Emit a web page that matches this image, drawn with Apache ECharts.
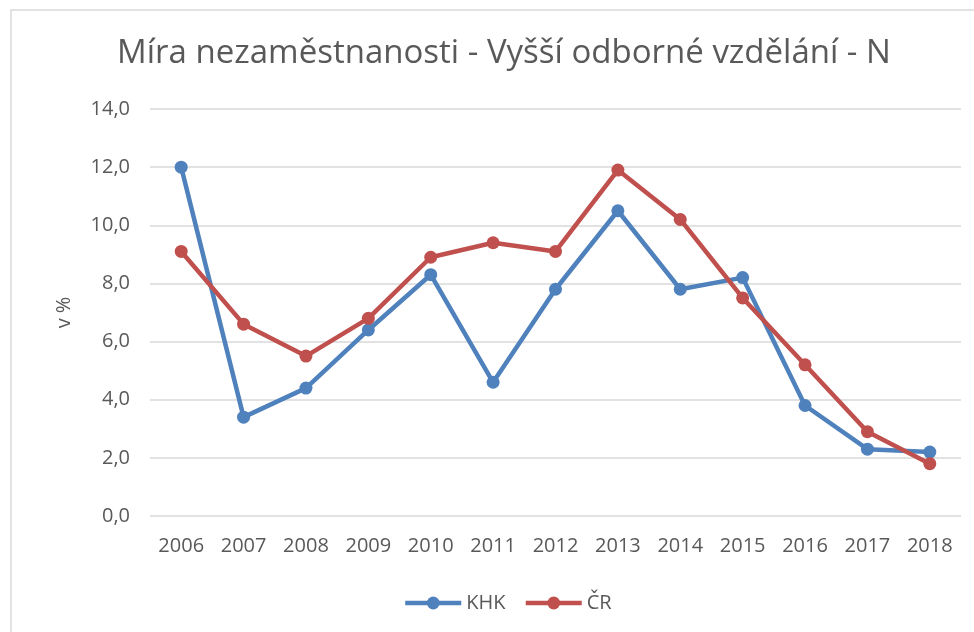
<!DOCTYPE html>
<html><head><meta charset="utf-8">
<script src="https://cdn.jsdelivr.net/npm/echarts@6/dist/echarts.min.js"></script>
<style>html,body{margin:0;padding:0;background:#fff}#c{width:974px;height:632px}</style>
</head><body><div id="c"></div>
<script>
var categories = ['2006','2007','2008','2009','2010','2011','2012','2013','2014','2015','2016','2017','2018'];
var khk = [12.0, 3.4, 4.4, 6.4, 8.3, 4.6, 7.8, 10.5, 7.8, 8.2, 3.8, 2.3, 2.2];
var cr = [9.1, 6.6, 5.5, 6.8, 8.9, 9.4, 9.1, 11.9, 10.2, 7.5, 5.2, 2.9, 1.8];
var titleText = 'Míra nezaměstnanosti - Vyšší odborné vzdělání - N';
var yName = 'v %';
var seriesNames = ['KHK', 'ČR'];

var chart = echarts.init(document.getElementById('c'), null, {renderer: 'canvas'});
var txt = '#595959';
var ff = '"Open Sans", sans-serif';
chart.setOption({
  animation: false,
  backgroundColor: '#fff',
  graphic: [{type: 'rect', shape: {x: 11, y: 10, width: 1000, height: 700}, style: {fill: 'none', stroke: '#d9d9d9', lineWidth: 1.5}, z: -1}],
  title: {text: titleText, left: 499, textAlign: 'center', top: 32,
    textStyle: {fontFamily: ff, fontSize: 33, fontWeight: 'normal', color: txt}},
  grid: {left: 150, right: 13, top: 109, bottom: 116},
  legend: {bottom: 14, left: 398, itemWidth: 56, itemHeight: 16, itemGap: 18,
    lineStyle: {width: 4.5},
    textStyle: {fontFamily: ff, fontSize: 20, color: txt},
    data: seriesNames},
  xAxis: {type: 'category', data: categories, boundaryGap: true,
    axisLine: {show: false}, axisTick: {show: false},
    axisLabel: {fontFamily: ff, fontSize: 20, color: txt, margin: 20}},
  yAxis: {type: 'value', min: 0, max: 14, interval: 2,
    name: yName, nameLocation: 'middle', nameGap: 76, nameRotate: 90,
    nameTextStyle: {fontFamily: ff, fontSize: 20, color: txt},
    axisLine: {show: false}, axisTick: {show: false},
    splitLine: {lineStyle: {color: '#d9d9d9', width: 1.5}},
    axisLabel: {fontFamily: ff, fontSize: 20, color: txt, margin: 20,
      formatter: function(v){ return v.toFixed(1).replace('.', ','); }}},
  series: [
    {name: seriesNames[0], type: 'line', data: khk, symbol: 'circle', symbolSize: 13,
     lineStyle: {width: 4.5, color: '#4F81BD'}, itemStyle: {color: '#4F81BD'}},
    {name: seriesNames[1], type: 'line', data: cr, symbol: 'circle', symbolSize: 13,
     lineStyle: {width: 4.5, color: '#C0504D'}, itemStyle: {color: '#C0504D'}}
  ]
});
</script></body></html>
